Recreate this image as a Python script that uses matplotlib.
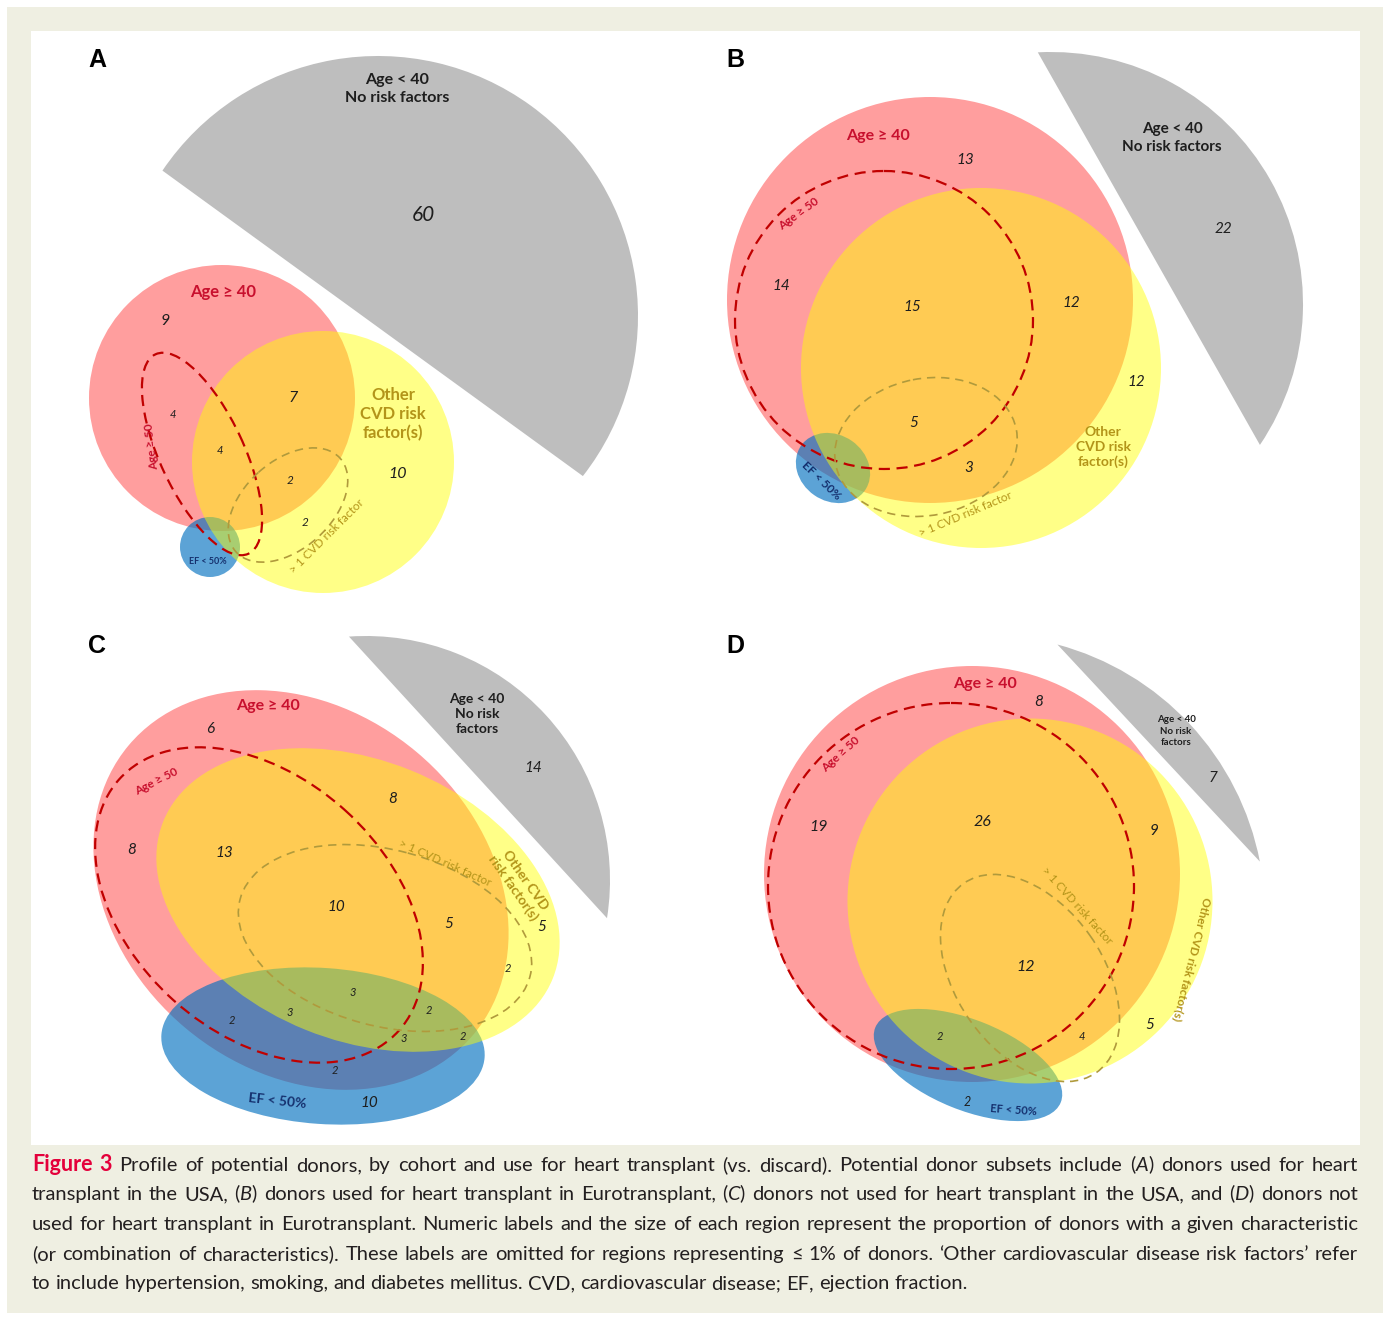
import numpy as np
import matplotlib
matplotlib.use("Agg")
import matplotlib.pyplot as plt
from matplotlib.patches import Ellipse, PathPatch, Rectangle
from matplotlib.path import Path
from matplotlib.transforms import Affine2D

W, H = 1389, 1317
FONT = ['Lato', 'DejaVu Sans']

plt.rcParams['mathtext.fontset'] = 'custom'
plt.rcParams['mathtext.rm'] = 'Lato'
plt.rcParams['mathtext.it'] = 'Lato:italic'
plt.rcParams['mathtext.bf'] = 'Lato:bold'

# share of donors (%) in each labelled region
values_a = [60, 9, 4, 4, 7, 2, 2, 10]
values_b = [22, 13, 14, 15, 12, 12, 5, 3]
values_c = [14, 6, 8, 13, 8, 10, 5, 5, 2, 3, 3, 2, 2, 3, 2, 2, 10]
values_d = [7, 8, 19, 26, 9, 12, 5, 2, 4, 2]

# label placement (x, y, font size) for the values above
pos_a = [(423, 215, 15), (165, 321, 11.5), (173, 415, 8), (220, 450, 8),
         (293, 398, 11.5), (290, 480, 8.5), (305, 523, 8.5), (398, 474, 11.5)]
pos_b = [(1223, 229, 11), (965, 160, 11), (781, 286, 11), (912, 307, 11),
         (1071, 303, 11), (1136, 382, 11), (914, 423, 11), (969, 468, 11)]
pos_c = [(533, 768, 11), (210, 729, 11), (132, 850, 11), (224, 853, 11),
         (393, 799, 11), (336, 907, 11), (449, 924, 11), (542, 927, 11),
         (508, 969, 8), (353, 993, 8), (290, 1012, 8), (429, 1011, 8),
         (232, 1021, 8), (404, 1039, 8), (463, 1036, 8), (335, 1070, 8),
         (369, 1103, 11)]
pos_d = [(1213, 778, 11), (1039, 702, 11), (819, 827, 11.5), (982, 822, 11.5),
         (1154, 831, 11), (1026, 967, 11.5), (1150, 1025, 11), (940, 1037, 8),
         (1082, 1037, 8), (967, 1102, 9)]

# set outlines: rest = circular segment (centre, radius, theta1, theta2),
# others = ellipses (cx, cy, width, height, angle)
geom_a = dict(rest=((378, 316), 260, -146, 38),
              age40=(222, 398, 266, 266, 0), cvd=(323, 462, 262, 262, 0),
              ef=(210, 547, 60, 60, 0), age50=(202, 454, 220, 84, 65),
              cvd2=(288, 505, 140, 88, -42))
geom_b = dict(rest=((1051, 304), 252, -93, 34),
              age40=(930, 300, 406, 406, 0), cvd=(981, 368, 360, 360, 0),
              ef=(833, 468, 78, 66, 35), age50=(884, 320, 298, 298, 0),
              cvd2=(926, 447, 184, 137, -11))
geom_c = dict(rest=((366, 880), 244, -94, 9),
              age40=(301, 890, 450, 360, 40), cvd=(358, 900, 420, 280, 22),
              ef=(323, 1046, 324, 156, 4), age50=(259, 905, 376, 256, 42),
              cvd2=(385, 938, 300, 176, 15))
geom_d = dict(rest=((985, 915), 280, -75, -11),
              age40=(972, 874, 416, 416, 0), cvd=(1030, 901, 365, 365, 0),
              ef=(968, 1065, 200, 90, 22), age50=(951, 886, 366, 366, 0),
              cvd2=(1030, 978, 231, 147, 55))

GRAY = '#BEBEBE'
RED_FILL = (1.0, 0.0, 0.0, 0.38)
BLUE_FILL = (0.0, 0.44, 0.75, 0.64)
YELLOW_FILL = (1.0, 1.0, 0.0, 0.47)
RED_TXT = '#C8102E'
OCHRE = '#B39419'
NAVY = '#15306E'
INK = '#1E1E1E'

fig = plt.figure(figsize=(W / 100, H / 100), dpi=100)
ax = fig.add_axes([0, 0, 1, 1])
ax.set_xlim(0, W)
ax.set_ylim(H, 0)
ax.axis('off')

ax.add_patch(Rectangle((7, 7), 1376, 1306, facecolor='#EFEFE2', edgecolor='none'))
ax.add_patch(Rectangle((31, 31), 1329, 1114, facecolor='white', edgecolor='none'))


def ell(g, **kw):
    cx, cy, w, h, a = g
    ax.add_patch(Ellipse((cx, cy), w, h, angle=a, **kw))


def draw_sets(g):
    c, r, t1, t2 = g['rest']
    seg = Affine2D().scale(r).translate(*c).transform_path(Path.arc(t1, t2))
    ax.add_patch(PathPatch(seg, facecolor=GRAY, edgecolor='none'))
    ell(g['age40'], facecolor=RED_FILL, edgecolor='none')
    ell(g['ef'], facecolor=BLUE_FILL, edgecolor='none')
    ell(g['cvd'], facecolor=YELLOW_FILL, edgecolor='none')
    ell(g['age50'], fill=False, edgecolor='#C00000', lw=1.6, ls=(0, (5, 3)))
    ell(g['cvd2'], fill=False, edgecolor='#B09A3C', lw=1.2, ls=(0, (5, 3.5)))


def lab(x, y, s, size, color=INK, weight='normal', style='normal', rot=0, ls=1.25):
    ax.text(x, y, s, fontsize=size, color=color, fontweight=weight, fontstyle=style,
            rotation=rot, linespacing=ls, ha='center', va='center',
            rotation_mode='anchor', family=FONT, multialignment='center')


def numbers(vals, pos):
    for v, (x, y, s) in zip(vals, pos):
        lab(x, y, str(v), s, style='italic')


for g in (geom_a, geom_b, geom_c, geom_d):
    draw_sets(g)

numbers(values_a, pos_a)
numbers(values_b, pos_b)
numbers(values_c, pos_c)
numbers(values_d, pos_d)

# panel letters
for x, y, s in [(97, 60, 'A'), (735, 60, 'B'), (97, 646, 'C'), (735, 646, 'D')]:
    ax.text(x, y, s, fontsize=18, fontweight='bold', family='Liberation Sans',
            ha='center', va='center', color='black')

# panel A
lab(397, 89, 'Age < 40\nNo risk factors', 11.5, weight='bold', ls=1.3)
lab(223, 292, 'Age ≥ 40', 12, color=RED_TXT, weight='bold')
lab(393, 414, 'Other\nCVD risk\nfactor(s)', 12, color=OCHRE, weight='bold', ls=1.25)
lab(152, 446, 'Age ≥ 50', 8.5, color=RED_TXT, weight='bold', rot=97)
lab(327, 536, '> 1 CVD risk factor', 8.5, color=OCHRE, rot=45)
lab(208, 562, 'EF < 50%', 6.5, color=NAVY, weight='bold')

# panel B
lab(1172, 138, 'Age < 40\nNo risk factors', 11, weight='bold', ls=1.3)
lab(878, 136, 'Age ≥ 40', 11.5, color=RED_TXT, weight='bold')
lab(1103, 447, 'Other\nCVD risk\nfactor(s)', 10, color=OCHRE, weight='bold', ls=1.28)
lab(799, 214, 'Age ≥ 50', 8.5, color=RED_TXT, weight='bold', rot=36)
lab(966, 514, '> 1 CVD risk factor', 8.5, color=OCHRE, rot=23)
lab(821, 481, 'EF < 50%', 8.5, color=NAVY, weight='bold', rot=-44)

# panel C
lab(477, 714, 'Age < 40\nNo risk\nfactors', 10, weight='bold', ls=1.28)
lab(268, 706, 'Age ≥ 40', 11.5, color=RED_TXT, weight='bold')
lab(156, 781, 'Age ≥ 50', 8.5, color=RED_TXT, weight='bold', rot=27)
lab(445, 863, '> 1 CVD risk factor', 8.5, color=OCHRE, rot=-24)
lab(519, 884, 'Other CVD\nrisk factor(s)', 10, color=OCHRE, weight='bold', rot=-55, ls=1.15)
lab(277, 1101, 'EF < 50%', 10, color=NAVY, weight='bold', rot=-6)

# panel D
lab(1176, 731, 'Age < 40\nNo risk\nfactors', 7, weight='bold', ls=1.3)
lab(985, 684, 'Age ≥ 40', 11.5, color=RED_TXT, weight='bold')
lab(841, 754, 'Age ≥ 50', 8.5, color=RED_TXT, weight='bold', rot=42)
lab(1077, 906, '> 1 CVD risk factor', 8.5, color=OCHRE, rot=-48)
lab(1192, 959, 'Other CVD risk factor(s)', 8.5, color=OCHRE, weight='bold', rot=-104)
lab(1013, 1110, 'EF < 50%', 8, color=NAVY, weight='bold', rot=-4)

# caption, justified line by line
cap_lines = [
    "Figure 3 Profile of potential donors, by cohort and use for heart transplant (vs. discard). "
    "Potential donor subsets include ($\\mathit{A}$) donors used for heart",
    "transplant in the USA, ($\\mathit{B}$) donors used for heart transplant in Eurotransplant, "
    "($\\mathit{C}$) donors not used for heart transplant in the USA, and ($\\mathit{D}$) donors not",
    "used for heart transplant in Eurotransplant. Numeric labels and the size of each region "
    "represent the proportion of donors with a given characteristic",
    "(or combination of characteristics). These labels are omitted for regions representing "
    "≤ 1% of donors. ‘Other cardiovascular disease risk factors’ refer",
    "to include hypertension, smoking, and diabetes mellitus. CVD, cardiovascular disease; "
    "EF, ejection fraction.",
]
cap_base = [1171, 1200, 1230, 1260, 1289]
x_left, x_right = 32, 1358
renderer = fig.canvas.get_renderer()
for i, (line, yb) in enumerate(zip(cap_lines, cap_base)):
    words = line.split(' ')
    arts = []
    for j, w in enumerate(words):
        kw = dict(fontsize=14.5, color='#231F20', family=FONT)
        if i == 0 and j < 2:
            kw.update(color='#E4003B', fontweight='bold', fontsize=15.5)
        arts.append(ax.text(0, yb, w, ha='left', va='baseline', **kw))
    widths = [a.get_window_extent(renderer).width for a in arts]
    if i < len(cap_lines) - 1:
        gap = max((x_right - x_left - sum(widths)) / (len(arts) - 1), 2.5)
    else:
        gap = 5.0
    x = x_left
    for a, wd in zip(arts, widths):
        a.set_x(x)
        x += wd + gap

fig.savefig('out.png', dpi=100, facecolor='white')
